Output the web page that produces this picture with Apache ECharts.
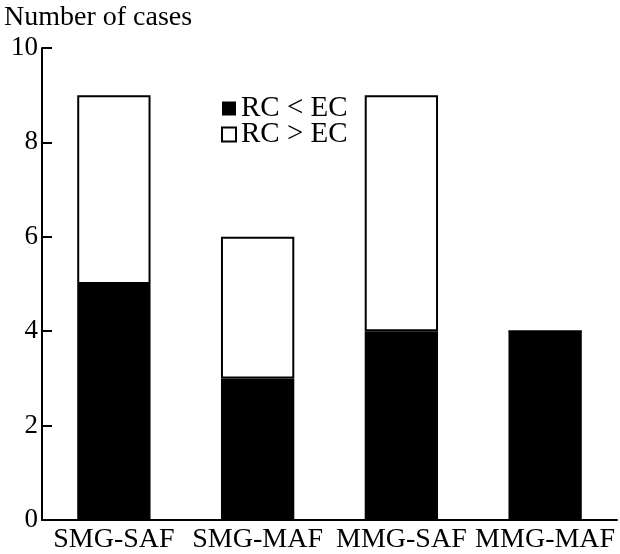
<!DOCTYPE html>
<html>
   <head>
       <meta charset="utf-8">
   </head>
   <body style="margin:0">
       <div id="container" style="height: 554px;width: 620px;"></div>
   </body>
</html>
<script type="text/javascript" src="https://cdn.jsdelivr.net/npm/echarts@6/dist/echarts.min.js"></script>
<script type="text/javascript">
    // data
    const categories = ['SMG-SAF', 'SMG-MAF', 'MMG-SAF', 'MMG-MAF'];
    const lessValues = [5, 3, 4, 4];      // RC < EC (black)
    const moreValues = [4, 3, 5, 0];      // RC > EC (white)
    const seriesNames = ['RC < EC', 'RC > EC'];

    drawChart();
    function drawChart() {
        const font = 'Liberation Serif';
        const dom = document.getElementById("container");
        const myChart = echarts.init(dom);
        const option = {
            animation: false,
            title: {
                text: 'Number of cases',
                left: 4,
                top: 4,
                padding: 0,
                textStyle: {
                    fontFamily: font,
                    fontSize: 28,
                    fontWeight: 'normal',
                    color: '#000'
                }
            },
            legend: {
                orient: 'vertical',
                left: 216,
                top: 89,
                itemWidth: 14,
                itemHeight: 14,
                itemGap: -3,
                textStyle: {
                    fontFamily: font,
                    fontSize: 29,
                    color: '#000',
                    padding: [0, 0, 0, 0]
                },
                data: [
                    {name: seriesNames[0], icon: 'rect', itemStyle: {color: '#000', borderWidth: 0}},
                    {name: seriesNames[1], icon: 'rect', itemStyle: {color: '#fff', borderColor: '#000', borderWidth: 2}}
                ]
            },
            grid: {
                left: 42,
                right: 3,
                top: 48,
                bottom: 33,
                containLabel: false
            },
            xAxis: {
                type: 'category',
                data: categories,
                axisLine: {lineStyle: {color: '#000', width: 2}},
                axisTick: {inside: true, length: 10, lineStyle: {color: '#000', width: 2}},
                axisLabel: {
                    interval: 0,
                    margin: 6,
                    fontFamily: font,
                    fontSize: 28,
                    color: '#000'
                }
            },
            yAxis: {
                type: 'value',
                min: 0,
                max: 10,
                interval: 2,
                splitLine: {show: false},
                axisLine: {show: true, lineStyle: {color: '#000', width: 2}},
                axisTick: {show: true, inside: true, length: 10, lineStyle: {color: '#000', width: 2}},
                axisLabel: {
                    margin: 4,
                    fontFamily: font,
                    fontSize: 27,
                    color: '#000'
                }
            },
            series: [
                {
                    name: seriesNames[0],
                    type: 'bar',
                    stack: 'cases',
                    barWidth: '51%',
                    itemStyle: {color: '#000'},
                    data: lessValues
                },
                {
                    name: seriesNames[1],
                    type: 'bar',
                    stack: 'cases',
                    barWidth: '51%',
                    itemStyle: {color: '#fff', borderColor: '#000', borderWidth: 2},
                    data: moreValues
                }
            ]
        };
        myChart.setOption(option, true);
    }
</script>
